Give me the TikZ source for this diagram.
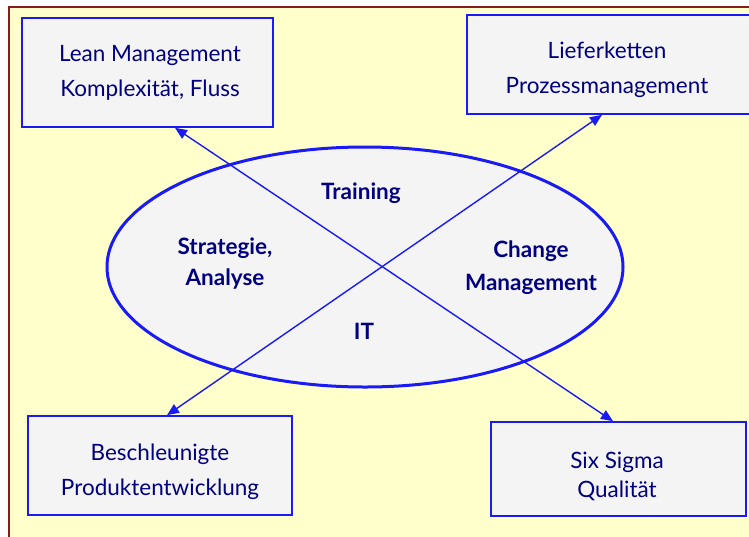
\documentclass[tikz,border=0pt]{standalone}
\usepackage{fontspec}
\setmainfont{Lato}
\usetikzlibrary{arrows.meta,calc,shapes.geometric}
\definecolor{bgyellow}{HTML}{FFFFCC}
\definecolor{boxfill}{HTML}{F4F4F4}
\definecolor{bluel}{HTML}{1A1AF5}
\definecolor{navy}{HTML}{000080}
\definecolor{frame}{HTML}{8B1A1A}
\tikzset{
  topic/.style={draw=bluel, line width=1.6pt, fill=boxfill, inner sep=0pt},
  topictext/.style={text=navy, align=center, font=\fontsize{22.5}{35}\selectfont, inner sep=0pt},
  field/.style={text=navy, align=center, font=\fontsize{22.5}{31}\selectfont\bfseries},
  link/.style={draw=bluel, line width=1.4pt, {Triangle[length=12pt,width=10pt]}-{Triangle[length=12pt,width=10pt]}},
}
\begin{document}
\begin{tikzpicture}[x=1pt,y=-1pt]
\useasboundingbox (0,0) rectangle (749,536);
\clip (0,0) rectangle (749,536);
\fill[white] (0,0) rectangle (749,536);
\draw[frame, line width=2pt, fill=bgyellow] (9,7) rectangle (770,560);
\node[draw=bluel, line width=3pt, fill=boxfill, ellipse, minimum width=516pt, minimum height=240pt, inner sep=0pt] (core) at (365,267) {};
\node[topic, minimum width=251pt, minimum height=109pt] (lean) at (147.5,72.5) {};
\node[topic, minimum width=290pt, minimum height=99pt] (supply) at (612,64.5) {};
\node[topic, minimum width=264pt, minimum height=99pt] (dev) at (160,465.5) {};
\node[topic, minimum width=255pt, minimum height=94pt] (six) at (618.5,469) {};
\node[topictext] (leanT) at (150,73) {Lean Management\\Komplexität, Fluss};
\node[topictext] (supplyT) at (607,70) {Lieferketten\\Prozessmanagement};
\node[topictext] (devT) at (160,472) {Beschleunigte\\Produktentwicklung};
\node[topictext, font=\fontsize{22.5}{29}\selectfont] (sixT) at (617,476) {Six Sigma\\Qualität};
\node[field] (train) at (361,193) {Training};
\node[field] (strat) at (225,264) {Strategie,\\Analyse};
\node[field, font=\fontsize{22.5}{33}\selectfont\bfseries] (change) at (531,268) {Change\\Management};
\node[field] (it) at (364,331) {IT};
\coordinate (a1) at ($(lean.south)+(27.5,0)$);
\coordinate (a2) at ($(six.north)+(-5.5,0)$);
\coordinate (b1) at ($(supply.south)+(-10,0)$);
\coordinate (b2) at ($(dev.north)+(7,0)$);
\draw[link] (a1) -- (a2);
\draw[link] (b1) -- (b2);
\end{tikzpicture}
\end{document}
